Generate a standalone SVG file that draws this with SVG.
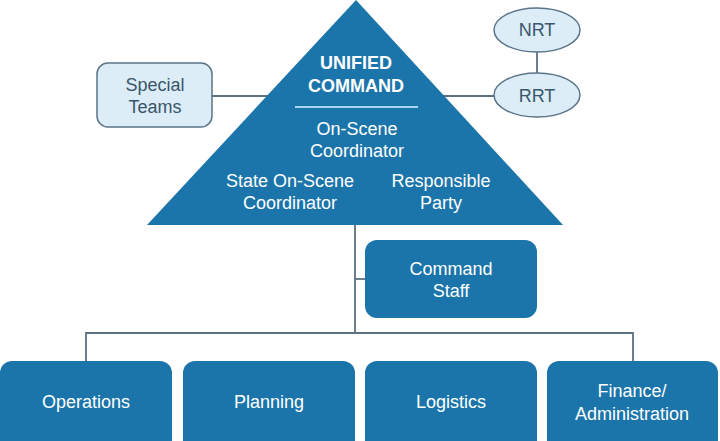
<svg xmlns="http://www.w3.org/2000/svg" width="720" height="441" viewBox="0 0 720 441">
<style>
.dark{fill:#1b75aa;}
.light{fill:#dcedf8;stroke:#5a7488;stroke-width:1.5;}
.conn{stroke:#5b7080;stroke-width:1.8;fill:none;}
.wt{font-family:"Liberation Sans",Arial,sans-serif;font-size:18px;fill:#ffffff;text-anchor:middle;}
.wb{font-family:"Liberation Sans",Arial,sans-serif;font-size:18px;font-weight:bold;fill:#ffffff;text-anchor:middle;}
.dt{font-family:"Liberation Sans",Arial,sans-serif;font-size:18px;fill:#3a566b;text-anchor:middle;}
</style>
<rect width="720" height="441" fill="#ffffff"/>
<g id="connectors">
<line class="conn" x1="212" y1="96" x2="270" y2="96"/>
<line class="conn" x1="440" y1="96" x2="494" y2="96"/>
<line class="conn" x1="537" y1="52" x2="537" y2="73"/>
<line class="conn" x1="355" y1="220" x2="355" y2="333"/>
<line class="conn" x1="355" y1="279" x2="366" y2="279"/>
<polyline class="conn" points="86,362 86,333 633,333 633,362"/>
</g>
<g id="unified-command">
<polygon class="dark" points="356,0 147,225 563,225"/>
<text class="wb" x="356" y="69">UNIFIED</text>
<text class="wb" x="356" y="92">COMMAND</text>
<line x1="295" y1="107" x2="418" y2="107" stroke="#a9d6f0" stroke-width="1.8"/>
<text class="wt" x="357" y="135">On-Scene</text>
<text class="wt" x="357" y="157">Coordinator</text>
<text class="wt" x="290" y="187">State On-Scene</text>
<text class="wt" x="290" y="209">Coordinator</text>
<text class="wt" x="441" y="187">Responsible</text>
<text class="wt" x="441" y="209">Party</text>
</g>
<g id="special-teams">
<rect class="light" x="97" y="63" width="115" height="64" rx="11"/>
<text class="dt" x="155" y="91">Special</text>
<text class="dt" x="155" y="113">Teams</text>
</g>
<g id="nrt">
<ellipse class="light" cx="537" cy="30" rx="43" ry="22"/>
<text class="dt" x="537" y="36">NRT</text>
</g>
<g id="rrt">
<ellipse class="light" cx="537" cy="95" rx="43" ry="22"/>
<text class="dt" x="537" y="102">RRT</text>
</g>
<g id="command-staff">
<rect class="dark" x="365" y="240" width="172" height="78" rx="12"/>
<text class="wt" x="451" y="275">Command</text>
<text class="wt" x="451" y="297">Staff</text>
</g>
<g id="operations">
<rect class="dark" x="0" y="361" width="172" height="100" rx="12"/>
<text class="wt" x="86" y="408">Operations</text>
</g>
<g id="planning">
<rect class="dark" x="183" y="361" width="172" height="100" rx="12"/>
<text class="wt" x="269" y="408">Planning</text>
</g>
<g id="logistics">
<rect class="dark" x="365" y="361" width="172" height="100" rx="12"/>
<text class="wt" x="451" y="408">Logistics</text>
</g>
<g id="finance">
<rect class="dark" x="547" y="361" width="171" height="100" rx="12"/>
<text class="wt" x="632" y="397">Finance/</text>
<text class="wt" x="632" y="420">Administration</text>
</g>
</svg>
